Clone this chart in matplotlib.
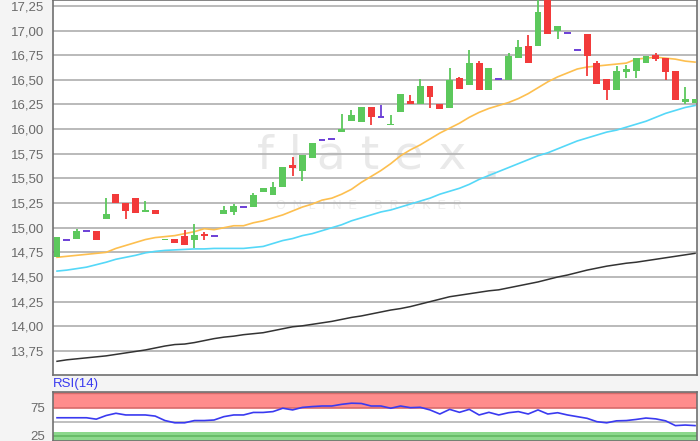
import numpy as np
import matplotlib
matplotlib.use("Agg")
import matplotlib.pyplot as plt
from matplotlib.ticker import FuncFormatter

plt.rcParams['font.family'] = ['Liberation Sans', 'DejaVu Sans']

# daily candles (open, high, low, close)
opens = [14.70, 14.88, 14.89, 14.965, 14.965, 15.09, 15.34, 15.25, 15.30, 15.16,
         15.175, 14.877, 14.89, 14.92, 14.875, 14.94, 14.915, 15.14, 15.16, 15.21,
         15.21, 15.36, 15.33, 15.41, 15.64, 15.58, 15.71, 15.89, 15.90, 15.97,
         16.08, 16.07, 16.22, 16.125, 16.045, 16.17, 16.285, 16.25, 16.44, 16.25,
         16.21, 16.515, 16.45, 16.67, 16.40, 16.51, 16.50, 16.72, 16.84, 16.84,
         17.40, 17.00, 16.98, 16.80, 16.97, 16.67, 16.51, 16.40, 16.58, 16.59,
         16.67, 16.75, 16.72, 16.59, 16.28, 16.27]
highs = [14.91, 14.88, 14.99, 14.965, 14.965, 15.30, 15.34, 15.25, 15.30, 15.27,
         15.175, 14.883, 14.89, 14.98, 15.04, 14.96, 14.915, 15.225, 15.24, 15.21,
         15.35, 15.40, 15.46, 15.62, 15.72, 15.74, 15.86, 15.89, 15.90, 16.15,
         16.19, 16.22, 16.22, 16.24, 16.14, 16.36, 16.35, 16.51, 16.44, 16.25,
         16.62, 16.53, 16.80, 16.69, 16.62, 16.51, 16.77, 16.90, 16.955, 17.35,
         17.40, 17.05, 16.98, 16.80, 16.97, 16.69, 16.51, 16.64, 16.65, 16.72,
         16.74, 16.77, 16.72, 16.59, 16.43, 16.305]
lows = [14.70, 14.88, 14.89, 14.965, 14.88, 15.09, 15.25, 15.09, 15.15, 15.16,
        15.14, 14.877, 14.85, 14.82, 14.79, 14.88, 14.915, 15.14, 15.13, 15.21,
        15.21, 15.36, 15.33, 15.41, 15.52, 15.475, 15.71, 15.89, 15.90, 15.97,
        16.08, 16.07, 16.04, 16.125, 16.045, 16.17, 16.25, 16.25, 16.21, 16.20,
        16.21, 16.41, 16.45, 16.40, 16.40, 16.51, 16.50, 16.72, 16.67, 16.84,
        16.965, 16.91, 16.98, 16.80, 16.54, 16.46, 16.30, 16.40, 16.52, 16.52,
        16.67, 16.69, 16.50, 16.295, 16.25, 16.27]
closes = [14.91, 14.88, 14.965, 14.965, 14.88, 15.14, 15.25, 15.17, 15.15, 15.18,
          15.14, 14.883, 14.85, 14.82, 14.93, 14.915, 14.915, 15.175, 15.22, 15.21,
          15.33, 15.40, 15.41, 15.62, 15.61, 15.74, 15.86, 15.89, 15.90, 16.005,
          16.14, 16.22, 16.12, 16.125, 16.055, 16.36, 16.25, 16.44, 16.33, 16.20,
          16.50, 16.41, 16.67, 16.40, 16.62, 16.51, 16.74, 16.83, 16.67, 17.19,
          16.965, 17.05, 16.98, 16.80, 16.745, 16.46, 16.40, 16.59, 16.61, 16.72,
          16.74, 16.71, 16.58, 16.295, 16.31, 16.305]

# moving averages
ma_orange = [14.70, 14.71, 14.72, 14.73, 14.74, 14.75, 14.79, 14.82, 14.85, 14.88,
             14.90, 14.91, 14.92, 14.94, 14.96, 14.99, 14.98, 15.00, 15.02, 15.02,
             15.05, 15.07, 15.10, 15.13, 15.17, 15.21, 15.24, 15.28, 15.30, 15.34,
             15.39, 15.46, 15.52, 15.58, 15.65, 15.73, 15.79, 15.84, 15.90, 15.96,
             16.01, 16.06, 16.12, 16.17, 16.21, 16.24, 16.27, 16.31, 16.36, 16.42,
             16.48, 16.53, 16.57, 16.61, 16.63, 16.64, 16.65, 16.66, 16.67, 16.71,
             16.72, 16.73, 16.72, 16.71, 16.69, 16.68]
ma_blue = [14.56, 14.57, 14.585, 14.60, 14.625, 14.65, 14.68, 14.70, 14.72, 14.745,
           14.76, 14.77, 14.775, 14.78, 14.785, 14.785, 14.79, 14.79, 14.79, 14.79,
           14.80, 14.81, 14.84, 14.87, 14.89, 14.92, 14.94, 14.97, 15.00, 15.03,
           15.07, 15.10, 15.13, 15.16, 15.18, 15.21, 15.24, 15.27, 15.30, 15.34,
           15.37, 15.40, 15.44, 15.49, 15.53, 15.57, 15.61, 15.65, 15.69, 15.73,
           15.76, 15.80, 15.84, 15.88, 15.91, 15.94, 15.97, 15.99, 16.02, 16.05,
           16.08, 16.12, 16.16, 16.19, 16.22, 16.24]
ma_black = [13.645, 13.66, 13.67, 13.68, 13.69, 13.70, 13.715, 13.73, 13.745, 13.76,
            13.78, 13.80, 13.815, 13.82, 13.835, 13.855, 13.875, 13.89, 13.90, 13.915,
            13.925, 13.935, 13.955, 13.975, 13.995, 14.005, 14.02, 14.035, 14.05, 14.07,
            14.09, 14.105, 14.125, 14.145, 14.165, 14.18, 14.20, 14.225, 14.25, 14.275,
            14.30, 14.315, 14.33, 14.345, 14.36, 14.37, 14.39, 14.41, 14.43, 14.45,
            14.475, 14.50, 14.52, 14.545, 14.57, 14.59, 14.61, 14.625, 14.64, 14.65,
            14.665, 14.68, 14.695, 14.71, 14.725, 14.74]

rsi = [57, 57, 57, 57, 54.5, 61, 65, 62, 62, 62,
       60, 52, 48, 48, 52, 52, 53, 59, 62, 62,
       66.5, 66.5, 68, 74, 71, 75.5, 77, 78, 78, 81,
       83, 82.5, 78, 78, 74, 78, 75, 75.7, 71, 63.7,
       72, 66.7, 72, 62, 66.7, 62, 66, 68, 63.7, 71,
       63.7, 66, 62, 59, 56, 50, 48, 51.5, 52, 54,
       56.5, 55, 51.5, 43, 44, 43]

price_ticks = [13.75, 14.00, 14.25, 14.50, 14.75, 15.00, 15.25, 15.50,
               15.75, 16.00, 16.25, 16.50, 16.75, 17.00, 17.25]

GREEN = '#5cc85c'
RED = '#f23a3a'
DOJI = '#6b3fd6'
GRID = '#b4b4b4'
SPINE = '#707070'

fig = plt.figure(figsize=(7, 4.41), dpi=100, facecolor='#f4f4f4')
ax = fig.add_axes([53 / 700, 66 / 441, 644 / 700, 375 / 441])
ax_rsi = fig.add_axes([53 / 700, 0, 644 / 700, 49 / 441])

x = np.arange(len(opens))
o = np.array(opens)
c = np.array(closes)
h = np.array(highs)
l = np.array(lows)

# watermark
ax.text(0.48, 0.585, 'f l a t e x', transform=ax.transAxes, fontsize=34, color='#e9e9e9',
        ha='center', va='center', zorder=0, family='DejaVu Sans')
ax.text(0.68, 0.56, '.', transform=ax.transAxes, fontsize=40, color='#e9e9e9',
        ha='center', va='center', zorder=0, fontweight='bold')
ax.text(0.49, 0.45, 'O  N  L  I  N  E     B  R  O  K  E  R', transform=ax.transAxes,
        fontsize=9, color='#eeeeee', ha='center', va='center', zorder=0)

for yv in price_ticks:
    ax.axhline(yv, color=GRID, lw=1.3, zorder=1)

ax.plot(x, ma_black, color='#333333', lw=1.1, zorder=3)
ax.plot(x, ma_blue, color='#55d8f8', lw=1.2, zorder=3)
ax.plot(x, ma_orange, color='#fdbf4f', lw=1.2, zorder=3)

up = c > o
down = c < o
flat = c == o
colors = np.where(up, GREEN, np.where(down, RED, DOJI))
ax.vlines(x, l, h, colors=colors, lw=1.3, zorder=4)
ax.bar(x[~flat], (c - o)[~flat], bottom=o[~flat], width=0.7,
       color=colors[~flat], linewidth=0, zorder=5)
ax.hlines(c[flat], x[flat] - 0.35, x[flat] + 0.35, colors=DOJI, lw=1.4, zorder=5)

ax.set_xlim(-0.41, 65.2)
ax.set_ylim(13.506, 17.31)
ax.set_yticks(price_ticks)
ax.yaxis.set_major_formatter(FuncFormatter(lambda v, p: f'{v:.2f}'.replace('.', ',')))
ax.tick_params(axis='y', length=0, pad=6, labelsize=9.5, labelcolor='#6a6a6a')
ax.set_xticks([])
ax.set_facecolor('white')
for s in ax.spines.values():
    s.set_color(SPINE)
    s.set_linewidth(1.2)

# RSI panel
ax_rsi.set_facecolor('white')
ax_rsi.axhspan(75, 104, color='#ff8c8c', zorder=1, lw=0)
ax_rsi.axhline(75, color='#d86a6a', lw=1.2, zorder=2)
ax_rsi.axhline(101.5, color='#d86a6a', lw=1.0, zorder=2)
ax_rsi.axhspan(10, 32, color='#8cd88c', zorder=1, lw=0)
ax_rsi.axhline(25, color='#62b862', lw=1.2, zorder=2)
ax_rsi.axhline(50, color=GRID, lw=1.2, zorder=2)
ax_rsi.plot(x, rsi, color='#3a3af0', lw=1.2, zorder=3)
ax_rsi.set_xlim(-0.41, 65.2)
ax_rsi.set_ylim(15.5, 103)
ax_rsi.set_yticks([25, 75])
ax_rsi.set_xticks([])
ax_rsi.tick_params(axis='y', length=0, pad=6, labelsize=9.5, labelcolor='#6a6a6a')
for s in ax_rsi.spines.values():
    s.set_color(SPINE)
    s.set_linewidth(1.2)

fig.text(53 / 700, 1 - 384 / 441, 'RSI(14)', color='#3a3af0', fontsize=9.5,
         ha='left', va='center')

fig.savefig('out.png', dpi=100, facecolor=fig.get_facecolor())
